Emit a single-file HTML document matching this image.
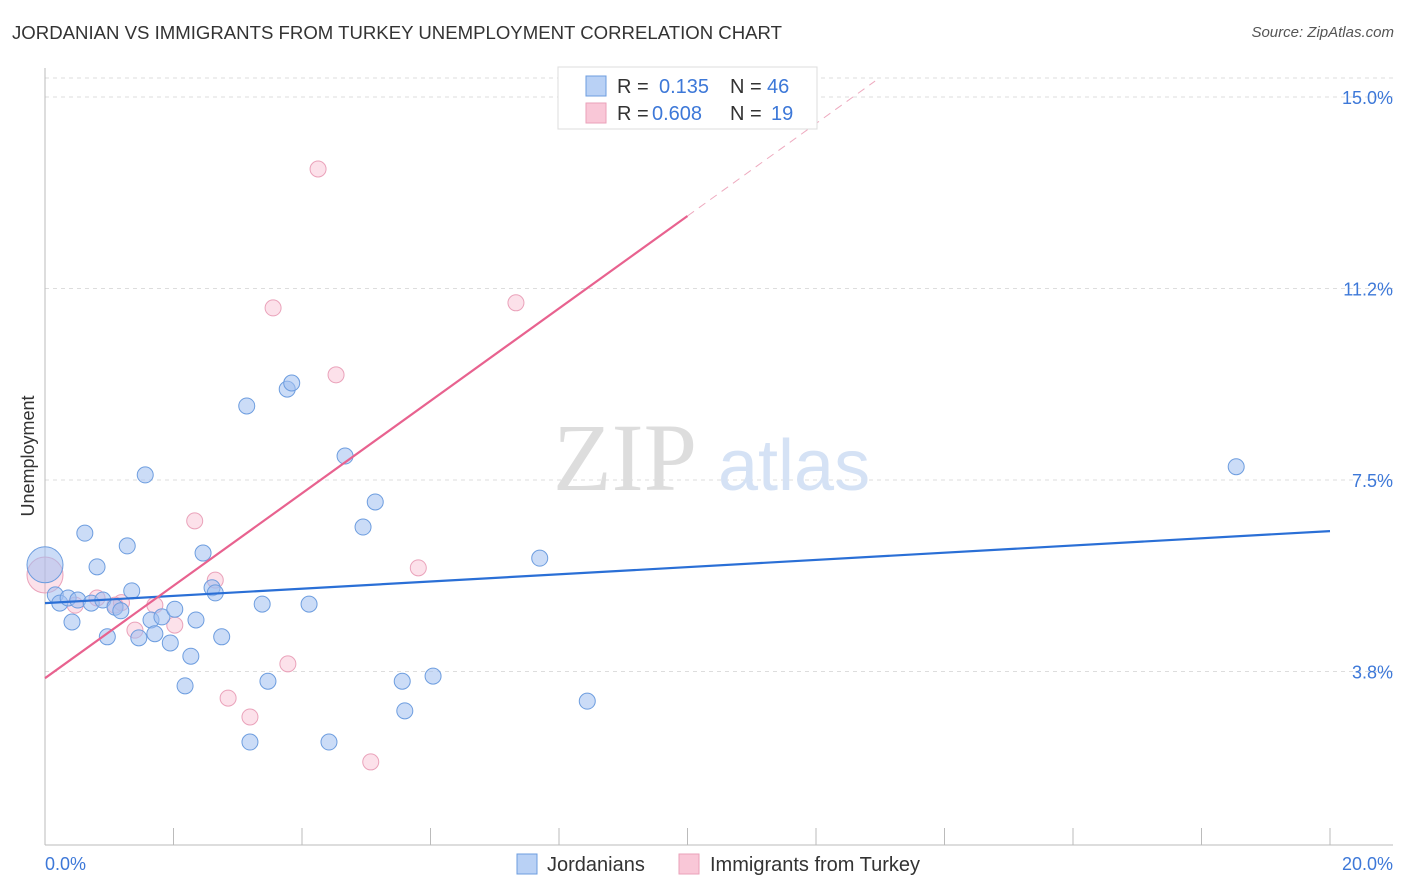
<!DOCTYPE html>
<html><head><meta charset="utf-8">
<style>
body{margin:0;background:#fff;font-family:"Liberation Sans",sans-serif;}
#wrap{position:relative;width:1406px;height:892px;overflow:hidden;}
.t{position:absolute;white-space:nowrap;}
</style></head>
<body>
<div id="wrap">
<div class="t" style="left:12px;top:22px;font-size:18.6px;color:#333;">JORDANIAN VS IMMIGRANTS FROM TURKEY UNEMPLOYMENT CORRELATION CHART</div>
<div class="t" style="right:12px;top:24px;font-size:15px;color:#555;font-style:italic;">Source: ZipAtlas.com</div>
<svg id="svg" width="1406" height="892" style="position:absolute;left:0;top:0"></svg>
</div>
<script>
const xTicks=[0,2,4,6,8,10,12,14,16,18,20];
const yTicks=[3.75,7.5,11.25,15];
const yTickLabels=["3.8%","7.5%","11.2%","15.0%"];
const jordX=[0,0.16,0.23,0.36,0.42,0.51,0.62,0.72,0.81,0.90,0.97,1.09,1.18,1.28,1.35,1.46,1.56,1.65,1.71,1.82,1.95,2.02,2.18,2.27,2.35,2.46,2.60,2.65,2.75,3.14,3.19,3.38,3.47,3.77,3.84,4.11,4.42,4.67,4.95,5.14,5.56,5.60,6.04,7.70,8.44,18.54];
const jordY=[5.84,5.25,5.09,5.19,4.72,5.15,6.46,5.09,5.80,5.15,4.43,5.01,4.94,6.21,5.33,4.41,7.60,4.76,4.49,4.82,4.31,4.97,3.47,4.05,4.76,6.07,5.39,5.29,4.43,8.95,2.37,5.07,3.56,9.28,9.40,5.07,2.37,7.97,6.58,7.07,3.56,2.98,3.66,5.97,3.17,7.76];
const turkX=[0,0.47,0.81,1.09,1.19,1.40,1.71,2.02,2.33,2.65,2.85,3.19,3.55,3.78,4.25,4.53,5.07,5.81,7.33];
const turkY=[5.64,5.05,5.19,5.05,5.10,4.56,5.05,4.66,6.70,5.54,3.23,2.86,10.87,3.90,13.59,9.56,1.98,5.78,10.97];
const jordLine=[5.09,6.50]; // y at x=0, x=20
const turkLine=[3.62,0.905]; // intercept, slope
const X=v=>45+v*64.25, Y=v=>97+(15-v)*51.07;
const svg=document.getElementById('svg');const NS='http://www.w3.org/2000/svg';
function mk(tag,attrs,name){const e=document.createElementNS(NS,tag);for(const k in attrs)e.setAttribute(k,attrs[k]);


svg.appendChild(e);return e;}
yTicks.forEach((v,i)=>{mk('line',{x1:45,x2:1393,y1:Y(v),y2:Y(v),stroke:'#ddd','stroke-dasharray':'4,4'},'y-gridline');
const t=mk('text',{x:1393,y:Y(v)+7,'text-anchor':'end','font-size':18,fill:'#3d78d8','font-family':'Liberation Sans'},'y-tick-label');t.textContent=yTickLabels[i];});
mk('line',{x1:45,x2:1393,y1:78,y2:78,stroke:'#ddd','stroke-dasharray':'4,4'},'top-gridline');
mk('line',{x1:45,x2:45,y1:68,y2:845,stroke:'#bbb'},'y-axis');
mk('line',{x1:45,x2:1393,y1:845,y2:845,stroke:'#bbb'},'x-axis');
xTicks.forEach(v=>mk('line',{x1:X(v),x2:X(v),y1:828,y2:845,stroke:'#bbb'},'x-tick'));
let t=mk('text',{x:45,y:870,'font-size':18,fill:'#3d78d8','font-family':'Liberation Sans'},'x-min-label');t.textContent='0.0%';
t=mk('text',{x:1393,y:870,'text-anchor':'end','font-size':18,fill:'#3d78d8','font-family':'Liberation Sans'},'x-max-label');t.textContent='20.0%';
t=mk('text',{x:34,y:456,'text-anchor':'middle','font-size':18,fill:'#333','font-family':'Liberation Sans',transform:'rotate(-90 34 456)'},'y-axis-title');t.textContent='Unemployment';
t=mk('text',{x:553,y:490,'font-size':96,fill:'#ddd','font-family':'Liberation Serif'},'watermark-zip');t.textContent='ZIP';
t=mk('text',{x:718,y:490,'font-size':72,fill:'#d5e2f5','font-family':'Liberation Sans'},'watermark-atlas');t.textContent='atlas';
function pts(xs,ys,fill,stroke,name){xs.forEach((x,i)=>{mk('circle',{cx:X(x),cy:Y(ys[i]),r:i==0&&x==0?18:8,fill:fill,stroke:stroke,'stroke-width':1},name);});}
pts(turkX,turkY,'rgba(246,170,196,0.35)','#eaa2ba','turkey-point');
pts(jordX,jordY,'rgba(160,192,240,0.55)','#6d9ddf','jordanian-point');
mk('line',{x1:X(0),y1:Y(jordLine[0]),x2:X(20),y2:Y(jordLine[1]),stroke:'#2a6fd6','stroke-width':2.2},'jordanian-trend-line');
mk('line',{x1:X(0),y1:Y(turkLine[0]),x2:X(10),y2:Y(turkLine[0]+turkLine[1]*10),stroke:'#e8628f','stroke-width':2.2},'turkey-trend-line');
mk('line',{x1:X(10),y1:Y(turkLine[0]+turkLine[1]*10),x2:X(12.92),y2:Y(turkLine[0]+turkLine[1]*12.92),stroke:'#eeaabf','stroke-width':1,'stroke-dasharray':'8,6'},'turkey-trend-extension');
mk('rect',{x:558,y:67,width:259,height:62,fill:'#fff',stroke:'#ddd'},'legend-box');
mk('rect',{x:586,y:76,width:20,height:20,fill:'#b9d1f5',stroke:'#6d9ddf'},'legend-swatch-jordanians');
mk('rect',{x:586,y:103,width:20,height:20,fill:'#f9c7d7',stroke:'#eaa2ba'},'legend-swatch-turkey');
function lt(x,y,s,c,name){const e=mk('text',{x:x,y:y,'font-size':20,fill:c,'font-family':'Liberation Sans'},name);e.textContent=s;}
lt(617,93,'R =','#333','legend-r-label');lt(659,93,'0.135','#3d78d8','legend-r-jordanians');
lt(730,93,'N =','#333','legend-n-label');lt(767,93,'46','#3d78d8','legend-n-jordanians');
lt(617,120,'R =','#333','legend-r-label');lt(652,120,'0.608','#3d78d8','legend-r-turkey');
lt(730,120,'N =','#333','legend-n-label');lt(771,120,'19','#3d78d8','legend-n-turkey');
mk('rect',{x:517,y:854,width:20,height:20,fill:'#b9d1f5',stroke:'#6d9ddf'},'bottom-legend-swatch-jordanians');
mk('rect',{x:679,y:854,width:20,height:20,fill:'#f9c7d7',stroke:'#eaa2ba'},'bottom-legend-swatch-turkey');
lt(547,871,'Jordanians','#333','bottom-legend-jordanians');
lt(710,871,'Immigrants from Turkey','#333','bottom-legend-turkey');
</script>
</body></html>
